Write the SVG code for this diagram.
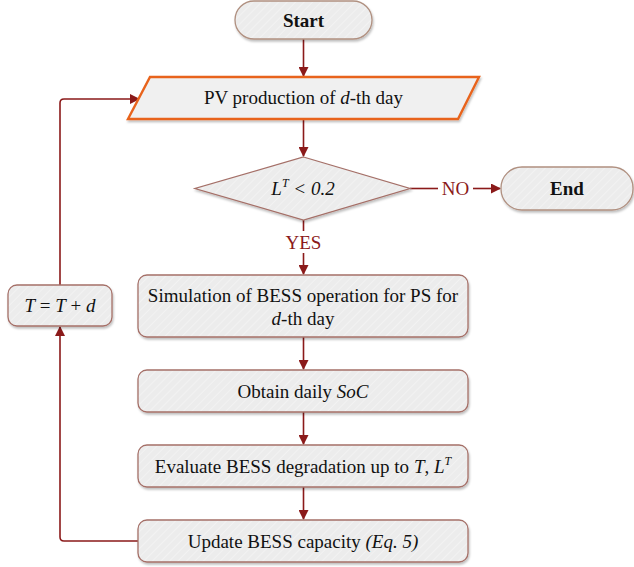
<svg xmlns="http://www.w3.org/2000/svg" width="634" height="567" viewBox="0 0 634 567">
<style>
.node{fill:url(#hatch);stroke:#a57068;stroke-width:1.3;filter:url(#sh)}
.term{fill:url(#hatch);stroke:#b09080;stroke-width:1.3;filter:url(#sh)}
.io{fill:#f0f0f0;stroke:#e8641e;stroke-width:2.4;filter:url(#sh)}
.c{fill:none;stroke:#8b1a1a;stroke-width:1.6}
</style>
<defs>
<pattern id="hatch" width="6" height="6" patternUnits="userSpaceOnUse" patternTransform="rotate(45)">
<rect width="6" height="6" fill="#ececec"/>
<line x1="0" y1="0" x2="0" y2="6" stroke="#f4f4f4" stroke-width="1.5"/>
</pattern>
<filter id="sh" x="-10%" y="-10%" width="120%" height="130%">
<feDropShadow dx="1" dy="2" stdDeviation="1.2" flood-color="#000" flood-opacity="0.25"/>
</filter>
<marker id="ah" markerWidth="10" markerHeight="10" refX="9" refY="5" orient="auto" markerUnits="userSpaceOnUse">
<path d="M0,0 L10,5 L0,10 z" fill="#8b1a1a"/>
</marker>
</defs>
<g id="connectors">
<path class="c" d="M303.5,39 V76" marker-end="url(#ah)"/>
<path class="c" d="M303.5,120 V156" marker-end="url(#ah)"/>
<path class="c" d="M410,188.5 H438"/>
<path class="c" d="M473,188.5 H500" marker-end="url(#ah)"/>
<path class="c" d="M303.5,220 V231"/>
<path class="c" d="M303.5,253 V274" marker-end="url(#ah)"/>
<path class="c" d="M303.5,337 V369" marker-end="url(#ah)"/>
<path class="c" d="M303.5,412 V444" marker-end="url(#ah)"/>
<path class="c" d="M303.5,487 V519" marker-end="url(#ah)"/>
<path class="c" d="M138,541 H64 Q60,541 60,537 V327" marker-end="url(#ah)"/>
<path class="c" d="M60,285 V103 Q60,99 64,99 H139" marker-end="url(#ah)"/>
<text x="455.5" y="195" font-family="Liberation Serif" font-size="19" fill="#8b1a1a" text-anchor="middle">NO</text>
<text x="303.5" y="249" font-family="Liberation Serif" font-size="19" fill="#8b1a1a" text-anchor="middle">YES</text>
</g>
<g id="start">
<rect class="term" x="235" y="1" width="137" height="38" rx="19"/>
<text x="303.5" y="26.5" font-family="Liberation Serif" font-size="19" font-weight="bold" fill="#111" text-anchor="middle">Start</text>
</g>
<g id="pv">
<polygon class="io" points="150,77 479,77 458,119 128,119"/>
<text x="303.5" y="104" font-family="Liberation Serif" font-size="19" fill="#111" text-anchor="middle">PV production of <tspan font-style="italic">d</tspan>-th day</text>
</g>
<g id="decision">
<polygon class="node" points="303.5,157 410,188.5 303.5,220 195,188.5"/>
<text x="303" y="195" font-family="Liberation Serif" font-size="19" font-style="italic" fill="#111" text-anchor="middle">L<tspan font-size="12" dy="-8">T</tspan><tspan dy="8"> &lt; 0.2</tspan></text>
</g>
<g id="end">
<rect class="term" x="501" y="167" width="132" height="43" rx="21"/>
<text x="567" y="195" font-family="Liberation Serif" font-size="19" font-weight="bold" fill="#111" text-anchor="middle">End</text>
</g>
<g id="simulation">
<rect class="node" x="138" y="275" width="330" height="62" rx="9"/>
<text x="303" y="302" font-family="Liberation Serif" font-size="19" fill="#111" text-anchor="middle">Simulation of BESS operation for PS for</text>
<text x="303" y="325" font-family="Liberation Serif" font-size="19" fill="#111" text-anchor="middle"><tspan font-style="italic">d</tspan>-th day</text>
</g>
<g id="soc">
<rect class="node" x="138" y="370" width="330" height="42" rx="9"/>
<text x="303" y="397.5" font-family="Liberation Serif" font-size="19" fill="#111" text-anchor="middle">Obtain daily <tspan font-style="italic">SoC</tspan></text>
</g>
<g id="evaluate">
<rect class="node" x="138" y="445" width="330" height="42" rx="9"/>
<text x="303" y="472.5" font-family="Liberation Serif" font-size="19" fill="#111" text-anchor="middle">Evaluate BESS degradation up to <tspan font-style="italic">T</tspan>, <tspan font-style="italic">L</tspan><tspan font-style="italic" font-size="12" dy="-8">T</tspan></text>
</g>
<g id="update">
<rect class="node" x="138" y="520" width="330" height="42" rx="9"/>
<text x="303" y="547.5" font-family="Liberation Serif" font-size="19" fill="#111" text-anchor="middle">Update BESS capacity <tspan font-style="italic">(Eq. 5)</tspan></text>
</g>
<g id="tupdate">
<rect class="node" x="8" y="285" width="104" height="41" rx="9"/>
<text x="60" y="312" font-family="Liberation Serif" font-size="19" fill="#111" text-anchor="middle"><tspan font-style="italic">T</tspan> = <tspan font-style="italic">T</tspan> + <tspan font-style="italic">d</tspan></text>
</g>
</svg>
